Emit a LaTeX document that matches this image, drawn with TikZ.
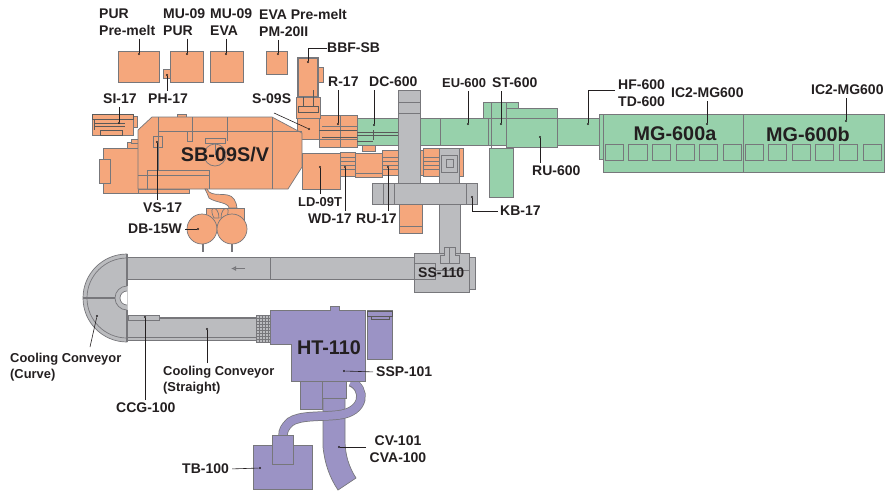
\documentclass[tikz,border=0pt]{standalone}
\usepackage{fontspec}
\usetikzlibrary{arrows.meta}
\setmainfont{Liberation Sans}
\definecolor{orangefill}{HTML}{F5A77C}
\definecolor{greenfill}{HTML}{97D1AB}
\definecolor{greyfill}{HTML}{BBBCBF}
\definecolor{purplefill}{HTML}{9B93C5}
\definecolor{partline}{HTML}{77777B}
\definecolor{labeltext}{HTML}{231F20}
\tikzset{
    orangepart/.style={draw=partline,fill=orangefill,line width=0.7pt},
    greenpart/.style={draw=partline,fill=greenfill,line width=0.7pt},
    greypart/.style={draw=partline,fill=greyfill,line width=0.7pt},
    purplepart/.style={draw=partline,fill=purplefill,line width=0.7pt},
    detail/.style={draw=partline,line width=0.7pt},
    darkdetail/.style={draw=black!65,line width=1pt},
    tag/.style={font=\bfseries\fontsize{14}{17}\selectfont,text=labeltext,align=left,inner sep=0pt},
    tagmid/.style={tag,align=center},
    cooltag/.style={tag,font=\bfseries\fontsize{12.9}{15.5}\selectfont},
    bigtag/.style={font=\bfseries\fontsize{19.8}{22}\selectfont,text=labeltext,inner sep=0pt},
    leader/.style={draw=labeltext,line width=0.6pt},
    enddot/.style={circle,fill=labeltext,inner sep=0pt,minimum size=2.4pt}
}
\begin{document}
\begin{tikzpicture}[x=1pt,y=-1pt]
    \useasboundingbox (0,0) rectangle (885,491);

    % cooling conveyor
    \begin{scope}[every path/.style={greypart}]
        \path (127,254) arc (270:90:44) -- cycle;
        \path (127,257) rectangle (414,279);
        \path (127,317) rectangle (256,340);
        \path (128,315) rectangle (159,320);
    \end{scope}
    \draw[detail] (127,258) arc (270:90:40);
    \draw[detail] (270,257) -- (270,279);
    \draw[detail] (159,318.5) -- (256,318.5) (127,337.5) -- (256,337.5);
    \draw[draw=partline,line width=2.5pt] (83,298) -- (116,298);
    \draw[greypart] (127,286) arc (270:90:12);
    \draw[draw=partline,fill=white,line width=0.7pt] (127,291) arc (270:90:7);
    \draw[draw=partline,line width=1.5pt] (127,254) -- (127,286) (127,310) -- (127,342);
    \draw[draw=partline,line width=1pt,-{Latex[open,length=5pt,width=5pt]}] (245,268.5) -- (231,268.5);
    \draw[greypart] (256,315) rectangle (270,342);
    \foreach \gridx in {259,262,265,268} \draw[detail,line width=0.4pt] (\gridx,315) -- (\gridx,342);
    \foreach \gridy in {318,321,...,339} \draw[detail,line width=0.4pt] (256,\gridy) -- (270,\gridy);

    % extruder line
    \begin{scope}[every path/.style={orangepart}]
        \path (118,51) rectangle (159,82);
        \path (170,51) rectangle (203,82);
        \path (210,51) rectangle (243,82);
        \path (266,51) rectangle (287,74);
        \path (163,69) rectangle (170,78);
        \path (127,142) rectangle (138,148);
        \path (131,139) rectangle (138,143);
        \path (177,114) rectangle (186,117);
        \path (103,148) rectangle (138,193);
        \path (99,159) rectangle (110,183);
        \path (138,189) rectangle (189,193);
        \path (297,118) rectangle (319,139);
        \path (138,130) -- (152,117) -- (272,117) -- (302,133) -- (302,167) -- (288,189) -- (138,189) -- cycle;
        \path (153,136) rectangle (162,147);
        \path (187,131) rectangle (192,141);
        \path (205,138) rectangle (225,143);
        \path (302,153) rectangle (340,189);
        \path (319,115) rectangle (357,147);
        \path (340,115) rectangle (357,147);
        \path (340,152) rectangle (355,176);
        \path (355,153) rectangle (382,173);
        \path (355,173) rectangle (382,177);
        \path (382,150) rectangle (398,175);
        \path (420,150) rectangle (423,175);
        \path (423,148) rectangle (439,176);
        \path (459,148) rectangle (463,176);
        \path (399,204) rectangle (422,233);
        \path (362,145) rectangle (375,151);
        \path (317,67) rectangle (323,82);
    \end{scope}
    \draw[orangepart,line width=1.5pt] (298,58) rectangle (318,97);
    \draw[orangepart,line width=1pt] (296,97) rectangle (320,118);
    \draw[darkdetail] (298,106) rectangle (318,112) (303,97) -- (303,106) (313,90) -- (313,106);
    \draw[detail] (158,117) -- (158,170) (192,117) -- (192,131) (227,117) -- (227,141)
        (272,117) -- (272,189) (158,131) -- (302,131) (147,170) -- (209,170) (138,175) -- (209,175)
        (147,170) -- (147,189) (209,170) -- (209,189);
    \draw[detail] (215,155) circle (11);
    \draw[detail] (215,143) -- (215,155);
    % screw feeder on the left
    \draw[orangepart] (92,114) rectangle (133,135) (133,116) rectangle (137,127);
    \draw[darkdetail] (92,114) rectangle (133,119) (94,123) -- (125,123) (94,126) -- (125,126) (100,130) rectangle (122,135) (94,120) -- (94,130);
    % gear pump and drive
    \draw[orangepart] (207,189) .. controls (211,199) and (228,190) .. (234,199) .. controls (236,203) and (237,205) .. (237,208) -- (229,208) .. controls (228,202) and (216,203) .. (209,198) .. controls (208,196) and (207,192) .. (205,189) -- cycle;
    \draw[orangepart] (206,208) rectangle (244,230);
    \draw[orangepart] (214,218) .. controls (207,205) and (219,205) .. (219,218) -- cycle;
    \draw[orangepart] (221,218) .. controls (221,205) and (233,205) .. (226,218) -- cycle;
    \draw[detail,line width=1.5pt] (203,243) -- (203,252) (232,243) -- (232,252);
    \draw[orangepart] (202,229) circle (15);
    \draw[orangepart] (232,229) circle (15);
    \draw[darkdetail] (319,130) -- (357,130) (322,137) -- (357,137);
    \draw[detail] (319,139) -- (357,139) (322,126) -- (357,126);
    \foreach \stripy in {157,161,165,169} \draw[detail] (340,\stripy) -- (355,\stripy) (382,\stripy) -- (398,\stripy) (423,\stripy) -- (439,\stripy);
    \draw[detail] (399,226) -- (422,226);

    % coating line
    \begin{scope}[every path/.style={greenpart}]
        \path (357,118) rectangle (398,145);
        \path (420,118) rectangle (600,145);
        \path (483,102) rectangle (518,118);
        \path (489,148) rectangle (513,197);
        \path (506,108) rectangle (557,147);
        \path (599,114) rectangle (604,159);
        \path (603,114) rectangle (884,172);
    \end{scope}
    \draw[detail] (440,118) -- (440,145) (488,118) -- (488,145) (491,102) -- (491,148) (506,102) -- (506,148) (506,118) -- (557,118);
    \draw[darkdetail] (357,132) -- (398,132) (357,135) -- (398,135) (373,130) -- (373,140) (357,141) -- (373,141);
    \draw[detail] (743,114) -- (743,172);
    \foreach \winx in {605,628.5,652,676,699,723,745,768,792,815,839,863}
        \draw[detail,line width=1pt] (\winx,144) rectangle ++(18.5,16);

    % transfer section
    \begin{scope}[every path/.style={greypart}]
        \path (398,90) rectangle (420,183);
        \path (439,148) rectangle (459,183);
        \path (439,204) rectangle (460,253);
        \path (469,257) rectangle (475,289);
        \path (414,253) rectangle (469,292);
        \path (372,183) rectangle (477,204);
    \end{scope}
    \draw[detail] (398,102) -- (420,102) (398,113) -- (420,113);
    \draw[detail] (383,183) -- (383,204) (394,183) -- (394,204) (466,183) -- (466,204);
    \draw[detail] (441,155) rectangle (457,172) (446,159) rectangle (453,167);
    \draw[detail] (414,263) rectangle (435,279) (435,270) -- (469,270);
    \draw[greypart] (440,263) -- (440,255) -- (444,255) -- (444,247) -- (455,247) -- (455,255) -- (459,255) -- (459,263) -- cycle;
    \draw[detail] (449,247) -- (449,263);

    % cooling tunnel and cutter
    \draw[purplepart] (300,381) rectangle (322,409);
    \draw[purplepart] (323,398) -- (323,447) .. controls (325,465) and (330,478) .. (338,490) -- (356,478) .. controls (349,467) and (345,455) .. (345,440) -- (345,398) -- cycle;
    \draw[draw=partline,line width=9.5pt,line cap=butt] (351,382) .. controls (366,388) and (366,412) .. (338,415) .. controls (320,417) and (300,415) .. (290,422) .. controls (285,427) and (283,430) .. (283,436);
    \draw[draw=purplefill,line width=8pt,line cap=butt] (351,381.5) .. controls (366,388) and (366,412) .. (338,415) .. controls (320,417) and (300,415) .. (290,422) .. controls (285,427) and (283,430) .. (283,436);
    \draw[purplepart] (322,381) rectangle (346,398);
    \draw[purplepart] (270,310) -- (330,310) -- (330,306) -- (339,306) -- (339,310) -- (365,310) -- (365,381) -- (291,381) -- (291,344) -- (270,344) -- cycle;
    \draw[purplepart] (367,310) rectangle (392,359);
    \draw[darkdetail] (367,311) rectangle (392,316) (371,316) -- (371,319) -- (389,319) -- (389,316);
    \draw[purplepart] (253,445) rectangle (312,489);
    \draw[purplepart] (272,435) rectangle (293,464);

    % labels
    \node[tag,anchor=west] (purmelt) at (99,22) {PUR\\Pre-melt};
    \node[tag,anchor=west] (mupur) at (163,22) {MU-09\\PUR};
    \node[tag,anchor=west] (mueva) at (210,22) {MU-09\\EVA};
    \node[tag,anchor=west] (evamelt) at (259,23) {EVA Pre-melt\\PM-20II};
    \node[tag,anchor=west] (bbf) at (327,48) {BBF-SB};
    \node[tag,anchor=west] (r17) at (328,82) {R-17};
    \node[tag,anchor=west] (dc600) at (369,82) {DC-600};
    \node[cooltag,anchor=west] (eu600) at (442,83) {EU-600};
    \node[tag,anchor=west] (st600) at (492,83) {ST-600};
    \node[tag,anchor=west] (hf600) at (618,93.5) {HF-600\\TD-600};
    \node[tag,anchor=west] (icone) at (671,93) {IC2-MG600};
    \node[tag,anchor=west] (ictwo) at (811,90) {IC2-MG600};
    \node[tag,anchor=west] (si17) at (103,99) {SI-17};
    \node[tag,anchor=west] (ph17) at (148,99) {PH-17};
    \node[tag,anchor=west] (s09s) at (252,99) {S-09S};
    \node[tag,anchor=west] (vs17) at (143,208) {VS-17};
    \node[tag,anchor=west] (db15w) at (128,229) {DB-15W};
    \node[cooltag,anchor=west] (ld09t) at (298,202) {LD-09T};
    \node[tag,anchor=west] (wd17) at (308,219) {WD-17};
    \node[tag,anchor=west] (ru17) at (356,219) {RU-17};
    \node[tag,anchor=west] (ru600) at (532,171) {RU-600};
    \node[tag,anchor=west] (kb17) at (500,211) {KB-17};
    \node[tag,anchor=west] (ss110) at (418,273) {SS-110};
    \node[cooltag,anchor=west] (cvcurve) at (10,367) {Cooling Conveyor\\(Curve)};
    \node[cooltag,anchor=west] (cvstraight) at (163,380) {Cooling Conveyor\\(Straight)};
    \node[tag,anchor=west] (ccg) at (116,408) {CCG-100};
    \node[tag,anchor=west] (ssp) at (376,372) {SSP-101};
    \node[tagmid,anchor=center] (cv101) at (398,449.5) {CV-101\\CVA-100};
    \node[tag,anchor=west] (tb100) at (182,469) {TB-100};
    \node[bigtag] (sbname) at (225,155) {SB-09S/V};
    \node[bigtag] (mga) at (675,134) {MG-600a};
    \node[bigtag] (mgb) at (808,134) {MG-600b};
    \node[bigtag] (htname) at (329,348) {HT-110};

    % leader ends
    \foreach \dotname/\dotpos in {dpur/{139,54}, dmup/{187,54}, dmue/{226,54}, deva/{278,54}, dbbf/{308,62},
        dph/{167,75}, dr/{338,124}, ddc/{374,125}, deu/{468,124}, dst/{501,124}, dhf/{588,124},
        dico/{707,124}, dict/{846,121}, dsi/{119,123}, ds/{309,129}, dvs/{157,142}, ddb/{198,229},
        dld/{320,167}, dwd/{345,167}, dru/{388,167}, drs/{540,137}, dkb/{472,197},
        dcurve/{97,316}, dstr/{207,329}, dccg/{145,317}, dssp/{344,371}, dcv/{339,447}, dtb/{260,468}}
        \node[enddot] (\dotname) at (\dotpos) {};
    \coordinate (hfbend) at (588,90);
    \coordinate (hfstart) at (615,90);
    \coordinate (sstart) at (274,113);
    \coordinate (cvstart) at (366,447);
    \coordinate (curvestart) at (90,347);

    \foreach \tagname/\dotname in {purmelt/dpur,mupur/dmup,mueva/dmue,evamelt/deva,r17/dr,dc600/ddc,
        eu600/deu,st600/dst,icone/dico,ictwo/dict,si17/dsi}
        \draw[leader,shorten <=3pt] (\tagname.south -| \dotname) -- (\dotname);
    \foreach \tagname/\dotname in {ph17/dph,vs17/dvs,ld09t/dld,wd17/dwd,ru17/dru,ru600/drs,cvstraight/dstr,ccg/dccg}
        \draw[leader,shorten <=3pt] (\tagname.north -| \dotname) -- (\dotname);
    \draw[leader] (bbf.west) -- (bbf.west -| dbbf) -- (dbbf);
    \draw[leader] (hfstart) -- (hfbend) -- (dhf);
    \draw[leader] (sstart) -- (ds);
    \draw[leader,shorten <=3pt] (db15w.east) -- (ddb);
    \draw[leader] (kb17.west) ++(-2,0) -- (kb17.west -| dkb) -- (dkb);
    \draw[leader] (curvestart) -- (dcurve);
    \draw[leader,shorten <=3pt] (ssp.west) -- (dssp);
    \draw[leader] (cvstart) -- (dcv);
    \draw[leader,shorten <=3pt] (tb100.east) -- (dtb);
\end{tikzpicture}
\end{document}
